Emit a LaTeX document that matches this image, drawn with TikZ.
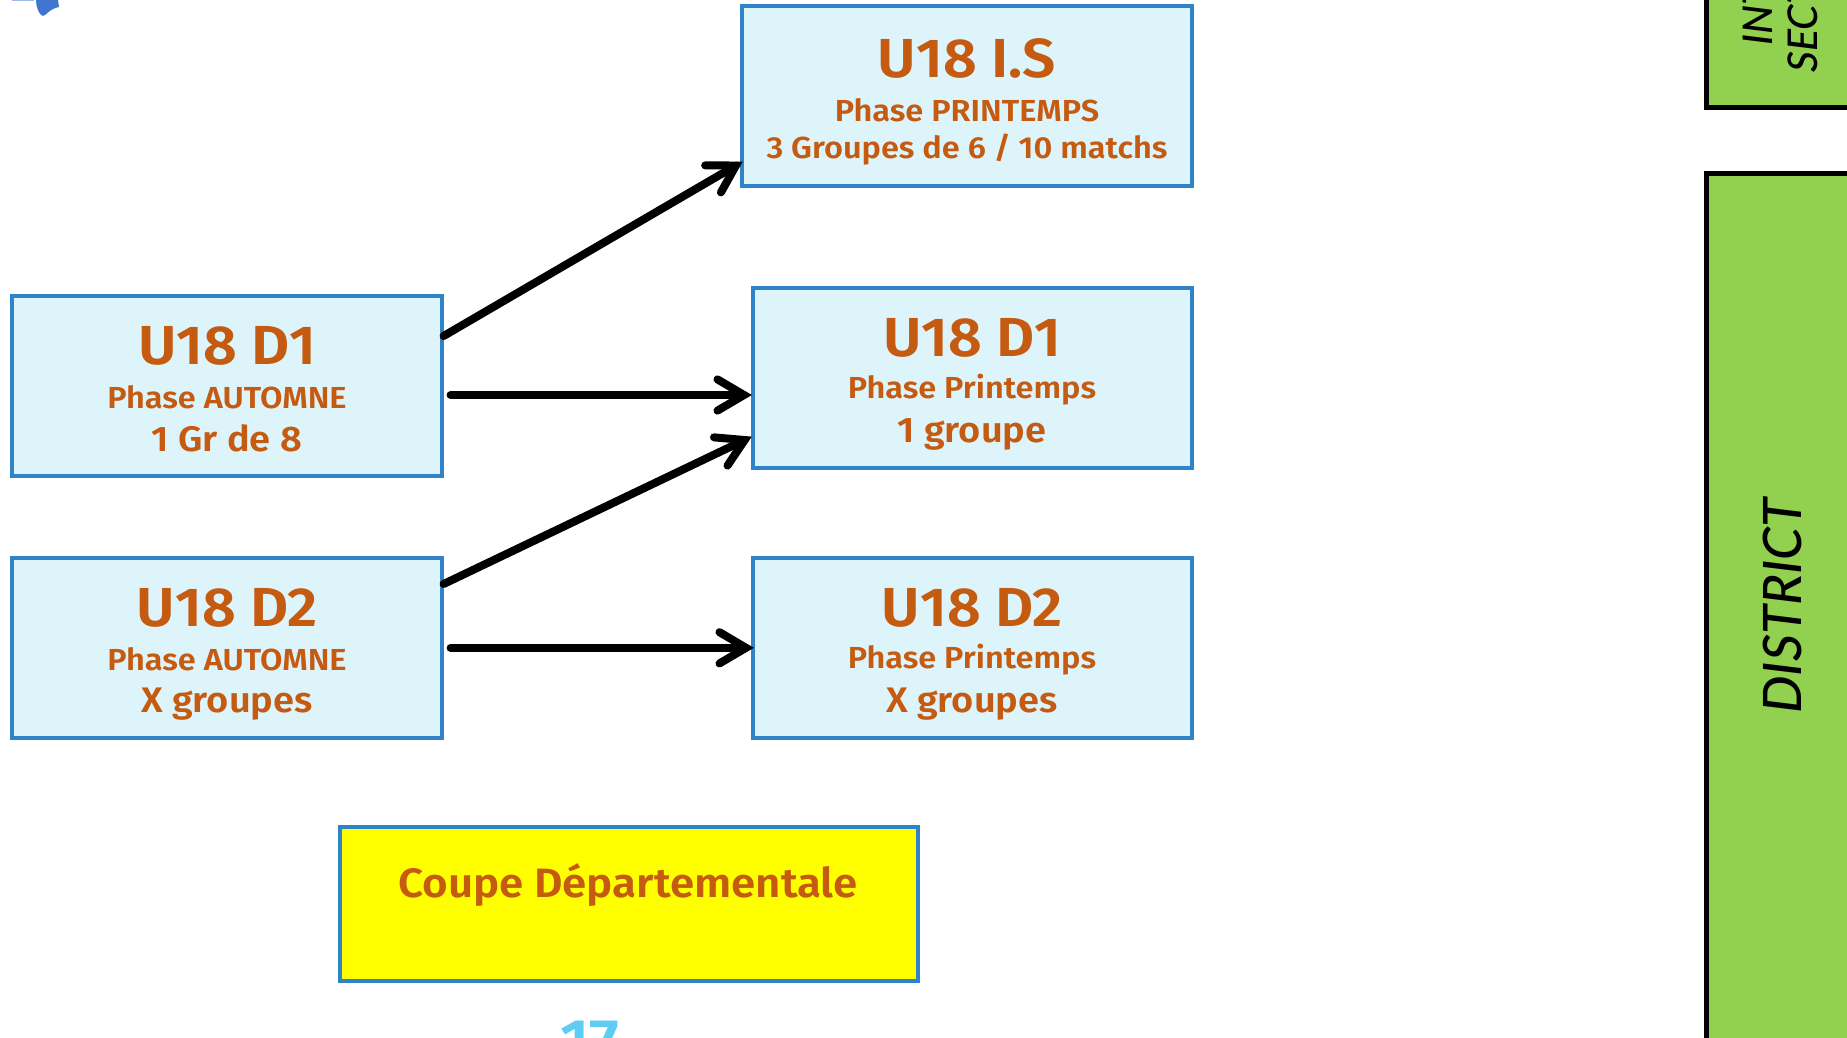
\documentclass[tikz,border=0pt]{standalone}
\usepackage{fontspec}
\setmainfont{Fira Sans}[BoldFont={Fira Sans SemiBold},FakeStretch=1.07]
\newfontfamily\greenfont{Lato}[ItalicFont={Lato Medium Italic}]
\usetikzlibrary{calc}
\definecolor{boxfill}{HTML}{DEF4FB}
\definecolor{boxline}{HTML}{2F83C6}
\definecolor{txt}{HTML}{C55A11}
\definecolor{grn}{HTML}{92D050}
\definecolor{blob}{HTML}{3F75CF}
\definecolor{num}{HTML}{5FCDF3}
\definecolor{yel}{HTML}{FFFF00}
\tikzset{
  x=1pt,y=-1pt,
  box/.style={draw=boxline,line width=3.6pt,fill=boxfill,inner sep=0pt,anchor=north west},
  yellowbox/.style={draw=boxline,line width=3.6pt,fill=yel,inner sep=0pt,anchor=north west},
  greenbox/.style={draw=black,line width=5pt,fill=grn},
  title/.style={text=txt,font=\bfseries\fontsize{55}{57}\selectfont,inner sep=0pt},
  sub/.style={text=txt,font=\bfseries\fontsize{30.4}{33}\selectfont,inner sep=0pt},
  third/.style={text=txt,font=\bfseries\fontsize{35.5}{37}\selectfont,inner sep=0pt},
  link/.style={draw=black,line width=8pt,line cap=round,line join=miter,miter limit=10},
  greenlabel/.style={font=\greenfont\itshape\fontsize{53}{55}\selectfont,inner sep=0pt,rotate=90},
  greensmall/.style={font=\greenfont\itshape\fontsize{41}{43}\selectfont,inner sep=0pt,rotate=90},
}
\newcommand{\linkarrow}[2]{%
  \draw[link] (#1) -- ($(#2)!7pt!(#1)$);
  \draw[link] ($(#2)!37pt!25:(#1)$) -- ($(#2)!7pt!(#1)$) -- ($(#2)!37pt!-25:(#1)$);
}
\begin{document}
\begin{tikzpicture}
\useasboundingbox (0,0) rectangle (1847,1037);
\begin{scope}
\clip (0,0) rectangle (1847,1037);
\fill[blob] (36,0) .. controls (36,7) and (39,15) .. (43,16) .. controls (47,15) and (49,9) .. (59,7) -- (58,0) -- cycle;
\fill[blob!50!white] (12,0) rectangle (34,1);
\node[greenbox,minimum width=200pt,minimum height=120pt,anchor=south west] (top) at (1704,110) {};
\node[greenbox,minimum width=200pt,minimum height=900pt,anchor=north west] (district) at (1704,171) {};
\node[greensmall,anchor=west] (int) at (1758,46) {INT};
\node[greensmall,anchor=west] (sect) at (1803,73) {SECT};
\node[greenlabel] (dist) at (1782,606) {DISTRICT};
\node[text=num,font=\bfseries\fontsize{60}{60}\selectfont,inner sep=0pt,anchor=north] (pg) at (590,1021) {17};
\end{scope}

\node[box,minimum width=450pt,minimum height=180pt] (is) at (740,4) {};
\node[box,minimum width=430pt,minimum height=180pt] (d1l) at (10,294) {};
\node[box,minimum width=430pt,minimum height=180pt] (d2l) at (10,556) {};
\node[box,minimum width=439pt,minimum height=180pt] (d1r) at (751,286) {};
\node[box,minimum width=439pt,minimum height=180pt] (d2r) at (751,556) {};
\node[yellowbox,minimum width=578pt,minimum height=154pt] (coupe) at (338,825) {};

\node[title] at (967,58) {U18 I.S};
\node[sub] at (967,110) {Phase PRINTEMPS};
\node[sub] at (967,149) {3 Groupes de 6 / 10 matchs};

\node[title] at (227,346) {U18 D1};
\node[sub] at (227,397) {Phase AUTOMNE};
\node[third] at (227,438) {1 Gr de 8};

\node[title] at (227,608) {U18 D2};
\node[sub] at (227,659) {Phase AUTOMNE};
\node[third] at (227,704) {X groupes};

\node[title] at (972,338) {U18 D1};
\node[sub] at (972,390) {Phase Printemps};
\node[third] at (972,434) {1 groupe};

\node[title] at (972,608) {U18 D2};
\node[sub] at (972,660) {Phase Printemps};
\node[third] at (972,704) {X groupes};

\node[text=txt,font=\bfseries\fontsize{41}{44}\selectfont,inner sep=0pt] at (628,885) {Coupe Départementale};

\coordinate (a1s) at (d1l.east |- 0,336);
\coordinate (a1e) at ([xshift=2pt]is.west |- 0,162);
\coordinate (a2s) at ([xshift=7pt]d1l.east |- 0,395);
\coordinate (a2e) at (d1r.west |- 0,395);
\coordinate (a3s) at (d2l.east |- 0,584);
\coordinate (a3e) at (d1r.west |- 0,437);
\coordinate (a4s) at ([xshift=7pt]d2l.east);
\coordinate (a4e) at ([xshift=2pt]d2r.west);
\linkarrow{a1s}{a1e}
\linkarrow{a2s}{a2e}
\linkarrow{a3s}{a3e}
\linkarrow{a4s}{a4e}
\end{tikzpicture}
\end{document}
